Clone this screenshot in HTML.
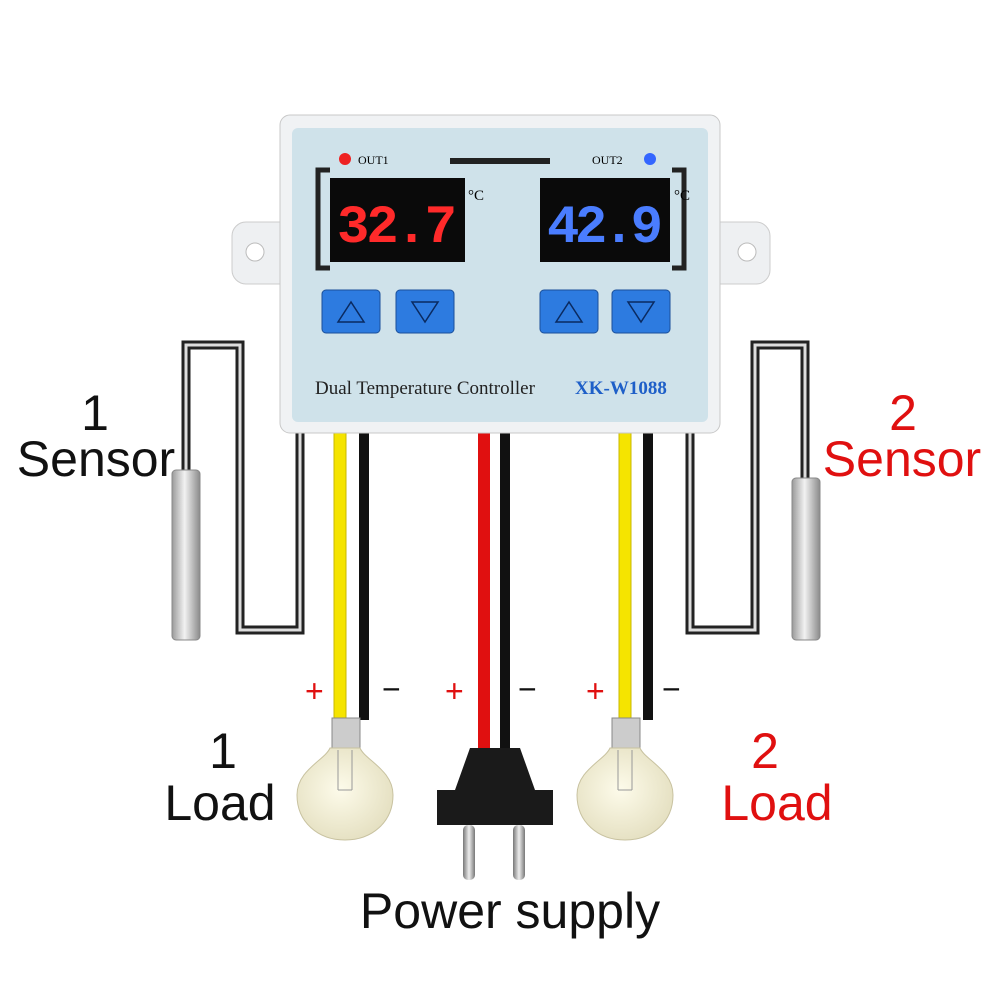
<!DOCTYPE html>
<html><head><meta charset="utf-8"><style>
html,body{margin:0;padding:0;background:#fff;}
svg{display:block}
</style></head><body>
<svg width="1000" height="1000" viewBox="0 0 1000 1000" xmlns="http://www.w3.org/2000/svg">
<defs>
<linearGradient id="probe" x1="0" x2="1"><stop offset="0" stop-color="#9a9a9a"/><stop offset="0.45" stop-color="#f2f2f2"/><stop offset="1" stop-color="#8a8a8a"/></linearGradient>
<radialGradient id="bulb" cx="0.45" cy="0.45" r="0.6"><stop offset="0" stop-color="#fdfbea"/><stop offset="1" stop-color="#e4dfc0"/></radialGradient>
<linearGradient id="pin" x1="0" x2="1"><stop offset="0" stop-color="#777"/><stop offset="0.5" stop-color="#eee"/><stop offset="1" stop-color="#777"/></linearGradient>
</defs>
<path d="M186 475 V345 H240 V630 H300 V430" fill="none" stroke="#222" stroke-width="9"/>
<path d="M186 475 V345 H240 V630 H300 V430" fill="none" stroke="#ddd" stroke-width="3"/>
<path d="M805 480 V345 H755 V630 H690 V430" fill="none" stroke="#222" stroke-width="9"/>
<path d="M805 480 V345 H755 V630 H690 V430" fill="none" stroke="#ddd" stroke-width="3"/>
<rect x="172" y="470" width="28" height="170" rx="4" fill="url(#probe)" stroke="#888"/>
<rect x="792" y="478" width="28" height="162" rx="4" fill="url(#probe)" stroke="#888"/>
<rect x="334" y="430" width="12" height="290" fill="#f5e400" stroke="#c9b800"/>
<rect x="359" y="430" width="10" height="290" fill="#111"/>
<rect x="478" y="430" width="12" height="320" fill="#e01010"/>
<rect x="500" y="430" width="10" height="320" fill="#111"/>
<rect x="619" y="430" width="12" height="290" fill="#f5e400" stroke="#c9b800"/>
<rect x="643" y="430" width="10" height="290" fill="#111"/>
<rect x="232" y="222" width="70" height="62" rx="14" fill="#eef0f2" stroke="#ccc"/>
<circle cx="255" cy="252" r="9" fill="#fff" stroke="#bbb"/>
<rect x="700" y="222" width="70" height="62" rx="14" fill="#eef0f2" stroke="#ccc"/>
<circle cx="747" cy="252" r="9" fill="#fff" stroke="#bbb"/>
<rect x="280" y="115" width="440" height="318" rx="10" fill="#f0f2f4" stroke="#c8c8c8"/>
<rect x="292" y="128" width="416" height="294" rx="6" fill="#cfe2ea"/>
<rect x="450" y="158" width="100" height="6" fill="#222"/>
<path d="M330 170 H318 V268 H330" fill="none" stroke="#222" stroke-width="5"/>
<path d="M672 170 H684 V268 H672" fill="none" stroke="#222" stroke-width="5"/>
<circle cx="345" cy="159" r="6" fill="#e22"/>
<text x="358" y="164" font-family="Liberation Serif,serif" font-size="12">OUT1</text>
<text x="592" y="164" font-family="Liberation Serif,serif" font-size="12">OUT2</text>
<circle cx="650" cy="159" r="6" fill="#36f"/>
<rect x="330" y="178" width="135" height="84" fill="#0a0a0a"/>
<text x="397" y="242" text-anchor="middle" font-family="Liberation Mono,monospace" font-weight="bold" font-size="54" fill="#ff2a2a" textLength="120">32.7</text>
<text x="468" y="200" font-family="Liberation Serif,serif" font-size="15">°C</text>
<rect x="540" y="178" width="130" height="84" fill="#0a0a0a"/>
<text x="605" y="242" text-anchor="middle" font-family="Liberation Mono,monospace" font-weight="bold" font-size="54" fill="#4a7dff" textLength="116">42.9</text>
<text x="674" y="200" font-family="Liberation Serif,serif" font-size="15">°C</text>
<g fill="#2d7be0" stroke="#1a4f9a">
<rect x="322" y="290" width="58" height="43" rx="4"/><rect x="396" y="290" width="58" height="43" rx="4"/>
<rect x="540" y="290" width="58" height="43" rx="4"/><rect x="612" y="290" width="58" height="43" rx="4"/>
</g>
<g fill="none" stroke="#0a2a60" stroke-width="1.5">
<path d="M338 322 L351 302 L364 322Z"/><path d="M412 302 L425 322 L438 302Z"/>
<path d="M556 322 L569 302 L582 322Z"/><path d="M628 302 L641 322 L654 302Z"/>
</g>
<text x="315" y="394" font-family="Liberation Serif,serif" font-size="19" fill="#222">Dual Temperature Controller</text>
<text x="575" y="394" font-family="Liberation Serif,serif" font-weight="bold" font-size="19" fill="#1e5fc8">XK-W1088</text>
<g font-family="Liberation Sans,sans-serif" font-size="32">
<text x="305" y="702" fill="#e01010">+</text><text x="382" y="700" fill="#111">−</text>
<text x="445" y="702" fill="#e01010">+</text><text x="518" y="700" fill="#111">−</text>
<text x="586" y="702" fill="#e01010">+</text><text x="662" y="700" fill="#111">−</text>
</g>
<rect x="332" y="718" width="28" height="30" fill="#ccc" stroke="#888"/>
<path d="M330 748 H360 C365 760 393 770 393 795 C393 822 372 840 345 840 C318 840 297 822 297 795 C297 770 325 760 330 748Z" fill="url(#bulb)" stroke="#c8c2a0"/>
<path d="M338 750 V790 M352 750 V790 M338 790 L352 790" stroke="#999" fill="none"/>
<rect x="612" y="718" width="28" height="30" fill="#ccc" stroke="#888"/>
<path d="M610 748 H640 C645 760 673 770 673 795 C673 822 652 840 625 840 C598 840 577 822 577 795 C577 770 605 760 610 748Z" fill="url(#bulb)" stroke="#c8c2a0"/>
<path d="M618 750 V790 M632 750 V790 M618 790 L632 790" stroke="#999" fill="none"/>
<path d="M470 748 H520 L535 790 H553 V825 H437 V790 H455 Z" fill="#1a1a1a"/>
<rect x="463" y="825" width="12" height="55" rx="5" fill="url(#pin)"/>
<rect x="513" y="825" width="12" height="55" rx="5" fill="url(#pin)"/>
<g font-family="Liberation Sans,sans-serif" font-size="50">
<text x="95" y="430" text-anchor="middle" fill="#111">1</text>
<text x="96" y="476" text-anchor="middle" fill="#111">Sensor</text>
<text x="903" y="430" text-anchor="middle" fill="#e01010">2</text>
<text x="902" y="476" text-anchor="middle" fill="#e01010">Sensor</text>
<text x="223" y="768" text-anchor="middle" fill="#111">1</text>
<text x="220" y="820" text-anchor="middle" fill="#111">Load</text>
<text x="765" y="768" text-anchor="middle" fill="#e01010">2</text>
<text x="777" y="820" text-anchor="middle" fill="#e01010">Load</text>
<text x="510" y="928" text-anchor="middle" fill="#111">Power supply</text>
</g>
</svg>
</body></html>
